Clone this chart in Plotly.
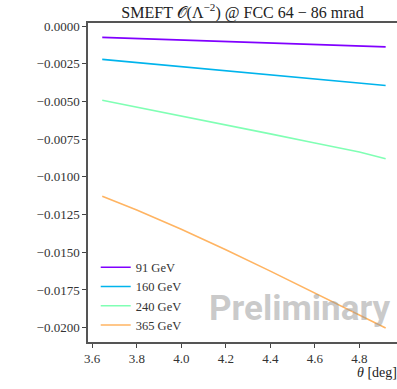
import plotly.graph_objects as go

# Scattering angle (degrees) at which the SMEFT correction was evaluated
theta_deg = [3.645, 3.8, 4.0, 4.2, 4.4, 4.6, 4.8, 4.918]

# O(Lambda^-2) correction per collider energy
energies = ["91 GeV", "160 GeV", "240 GeV", "365 GeV"]
corr_91 = [-0.00075, -0.00083, -0.00093, -0.00103, -0.00112, -0.00122, -0.00132, -0.00138]
corr_160 = [-0.00221, -0.00242, -0.00269, -0.00297, -0.00324, -0.00351, -0.00378, -0.00394]
corr_240 = [-0.00492, -0.00537, -0.00595, -0.00656, -0.00715, -0.00775, -0.00835, -0.00880]
corr_365 = [-0.01129, -0.01220, -0.01347, -0.01483, -0.01625, -0.01772, -0.01920, -0.02002]

series = [corr_91, corr_160, corr_240, corr_365]
# matplotlib "rainbow" colormap sampled at 0, 0.25, 0.5, 0.75
colors = ["#8000ff", "#00b4ec", "#80ffb4", "#ffb462"]

SERIF = "Liberation Serif"

fig = go.Figure()
for name, vals, col in zip(energies, series, colors):
    fig.add_trace(go.Scatter(
        x=theta_deg, y=vals, mode="lines", name=name,
        line=dict(color=col, width=1.6),
    ))

fig.update_layout(
    width=397, height=389,
    margin=dict(l=88, r=0, t=23, b=47),
    paper_bgcolor="white", plot_bgcolor="white",
    font=dict(family=SERIF, size=13, color="#333"),
    title=dict(
        text="SMEFT 𝒪(Λ<sup>−2</sup>) @ FCC 64 − 86 mrad",
        font=dict(family=SERIF, size=16, color="#222"),
        xref="paper", x=0.5, xanchor="center",
        yref="container", y=1 - 12 / 389, yanchor="middle",
    ),
    showlegend=True,
    legend=dict(
        x=0.025, y=0.28, xanchor="left", yanchor="top",
        bgcolor="rgba(255,255,255,0)", borderwidth=0,
        font=dict(family=SERIF, size=12.5, color="#333"),
        tracegroupgap=0,
    ),
    xaxis=dict(
        range=[3.581, 4.969],
        tickvals=[3.6, 3.8, 4.0, 4.2, 4.4, 4.6, 4.8],
        ticktext=["3.6", "3.8", "4.0", "4.2", "4.4", "4.6", "4.8"],
        ticks="outside", ticklen=4, tickwidth=1.2, tickcolor="#444",
        showline=True, linecolor="#555", linewidth=1.5, mirror=True,
        showgrid=False, zeroline=False,
        tickfont=dict(family=SERIF, size=13, color="#333"),
    ),
    yaxis=dict(
        range=[-0.02095, 0.0002],
        tickvals=[0, -0.0025, -0.005, -0.0075, -0.01, -0.0125, -0.015, -0.0175, -0.02],
        tickformat=".4f",
        ticks="outside", ticklen=4, tickwidth=1.2, tickcolor="#444",
        showline=True, linecolor="#555", linewidth=1.5, mirror=False,
        showgrid=False, zeroline=False,
        tickfont=dict(family=SERIF, size=13, color="#333"),
    ),
    annotations=[
        dict(
            text="Preliminary", xref="paper", yref="paper",
            x=0.686, y=0.105, xanchor="center", yanchor="middle",
            showarrow=False,
            font=dict(family="Roboto", size=35, color="rgba(150,150,150,0.5)", weight="bold"),
        ),
        dict(
            text="<i>θ</i> [deg]", xref="paper", yref="paper",
            x=1.006, y=-0.095, xanchor="right", yanchor="middle",
            showarrow=False,
            font=dict(family=SERIF, size=14, color="#222"),
        ),
    ],
)

fig.write_html("out.html")
